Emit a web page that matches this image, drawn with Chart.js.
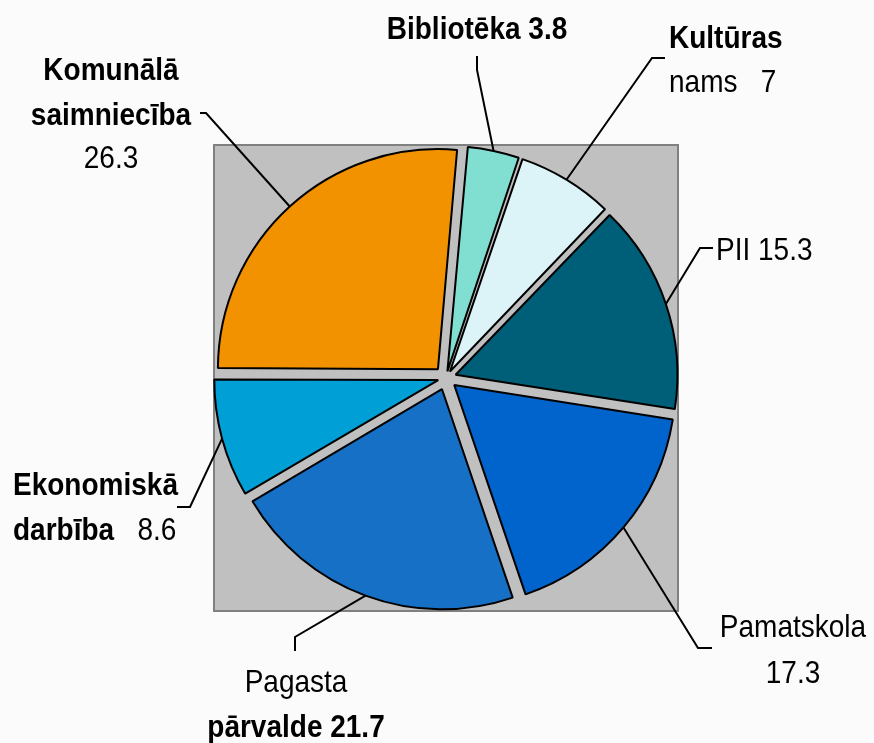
<!DOCTYPE html>
<html>
<head>
<meta charset="utf-8">
<script src="https://cdn.jsdelivr.net/npm/chart.js@4/dist/chart.umd.min.js"></script>
<style>
  html, body { margin: 0; padding: 0; background: #fbfbfb; }
  #wrap { width: 874px; height: 743px; }
</style>
</head>
<body>
<div id="wrap"><canvas id="pie" width="874" height="743"></canvas></div>
<script>
var categories = ["Bibliotēka", "Kultūras nams", "PII", "Pamatskola", "Pagasta pārvalde", "Ekonomiskā darbība", "Komunālā saimniecība"];
var values = [3.8, 7, 15.3, 17.3, 21.7, 8.6, 26.3];
var colors = ["#80dfd0", "#dcf4f8", "#005f78", "#0064cc", "#1670c6", "#009fd6", "#f39200"];

var total = values.reduce(function (a, b) { return a + b; }, 0);
var EXPLODE = 12; // px each slice is pulled out

// label layout: lines of runs, position relative to pie centre, leader elbow points
var labelLayout = [
  { align: "center", dx: 31, dy: [-339], lines: [[{ t: "Bibliotēka ", b: true }, { v: 0, b: true }]],
    leader: [[31, -322], [31, -308]] },
  { align: "left", dx: 223, dy: [-330, -286], lines: [[{ t: "Kultūras", b: true }], [{ t: "nams   " }, { v: 1 }]],
    leader: [[219, -320], [206, -320]] },
  { align: "left", dx: 270, dy: [-118], lines: [[{ t: "PII " }, { v: 2 }]],
    leader: [[267, -130], [254, -130]] },
  { align: "center", dx: 347, dy: [259, 305], lines: [[{ t: "Pamatskola" }], [{ v: 3 }]],
    leader: [[266, 270], [252, 270]] },
  { align: "center", dx: -150, dy: [314, 359], lines: [[{ t: "Pagasta" }], [{ t: "pārvalde ", b: true }, { v: 4, b: true }]],
    leader: [[-151, 273], [-151, 259]] },
  { align: "left", dx: -433, dy: [117, 162], lines: [[{ t: "Ekonomiskā", b: true }], [{ t: "darbība", b: true }, { t: "   " }, { v: 5 }]],
    leader: [[-269, 129], [-256, 129]] },
  { align: "center", dx: -335, dy: [-298, -253, -210], lines: [[{ t: "Komunālā", b: true }], [{ t: "saimniecība", b: true }], [{ v: 6 }]],
    leader: [[-246, -265], [-240, -265]] }
];

function runText(r) {
  return r.v !== undefined ? String(values[r.v]) : r.t;
}
function runFont(r) {
  return (r.b ? "bold " : "") + "28px 'Liberation Sans', Arial, sans-serif";
}

var plotBox = {
  id: "plotBox",
  beforeDatasetsDraw: function (chart) {
    var a = chart.chartArea;
    var ctx = chart.ctx;
    ctx.save();
    ctx.fillStyle = "#c0c0c0";
    ctx.fillRect(a.left, a.top, a.right - a.left, a.bottom - a.top);
    ctx.strokeStyle = "#808080";
    ctx.lineWidth = 2;
    ctx.strokeRect(a.left + 1, a.top + 1, a.right - a.left - 2, a.bottom - a.top - 2);
    ctx.restore();
  }
};

var pieLabels = {
  id: "pieLabels",
  afterDatasetsDraw: function (chart) {
    var ctx = chart.ctx;
    var meta = chart.getDatasetMeta(0);
    ctx.save();
    meta.data.forEach(function (arc, i) {
      var lay = labelLayout[i];
      var cx = arc.x, cy = arc.y;
      var mid = (arc.startAngle + arc.endAngle) / 2;
      var circ = arc.endAngle - arc.startAngle;
      var off = (arc.options.offset || 0) / 4;
      var shift = off * (2 - Math.sin(Math.min(Math.PI, circ)));
      var px = cx + Math.cos(mid) * (arc.outerRadius + shift);
      var py = cy + Math.sin(mid) * (arc.outerRadius + shift);

      ctx.strokeStyle = "#000";
      ctx.lineWidth = 2;
      ctx.beginPath();
      ctx.moveTo(cx + lay.leader[0][0], cy + lay.leader[0][1]);
      ctx.lineTo(cx + lay.leader[1][0], cy + lay.leader[1][1]);
      ctx.lineTo(px, py);
      ctx.stroke();

      ctx.fillStyle = "#000";
      ctx.textBaseline = "alphabetic";
      ctx.textAlign = "left";
      lay.lines.forEach(function (line, li) {
        var w = 0;
        line.forEach(function (r) { ctx.font = runFont(r); w += ctx.measureText(runText(r)).width; });
        var x = cx + lay.dx;
        if (lay.align === "center") x -= w / 2;
        var y = cy + lay.dy[li];
        ctx.save();
        ctx.translate(x, y);
        ctx.scale(1, 1.12);
        var xx = 0;
        line.forEach(function (r) {
          ctx.font = runFont(r);
          var s = runText(r);
          ctx.fillText(s, xx, 0);
          xx += ctx.measureText(s).width;
        });
        ctx.restore();
      });
    });
    ctx.restore();
  }
};

new Chart(document.getElementById("pie"), {
  type: "pie",
  data: {
    labels: categories,
    datasets: [{
      data: values,
      backgroundColor: colors,
      borderColor: "#000",
      borderWidth: 2,
      offset: function (c) {
        var circ = values[c.dataIndex] / total * 2 * Math.PI;
        var fix = 1 - Math.sin(Math.min(Math.PI, circ));
        return 4 * EXPLODE / (1 + fix);
      }
    }]
  },
  options: {
    responsive: false,
    animation: false,
    rotation: 5,
    radius: 220,
    layout: { padding: { left: 213, right: 195, top: 144, bottom: 131 } },
    plugins: {
      legend: { display: false },
      tooltip: { enabled: false }
    },
    events: []
  },
  plugins: [plotBox, pieLabels]
});
</script>
</body>
</html>
